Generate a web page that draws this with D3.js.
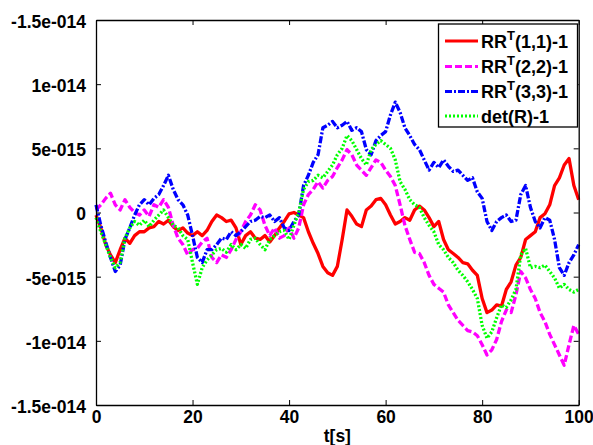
<!DOCTYPE html>
<html><head><meta charset="utf-8">
<script src="https://cdn.jsdelivr.net/npm/d3@7"></script>
<style>
html,body{margin:0;padding:0;background:#fff;}
svg text{font-family:"Liberation Sans",Arial,sans-serif;font-weight:bold;}
</style></head>
<body><svg id="c" width="593" height="445"></svg>
<script>
// time samples (s)
const times = d3.range(0, 101, 1);
// values in units of 1e-15
const UNIT = 1e-15;
const rr11 = [-0.2,-1.2,-2.5,-3.3,-3.9,-2.9,-2.0,-2.4,-1.8,-1.5,-1.5,-1.2,-1.1,-0.7,-0.9,-0.6,-1.1,-1.4,-1.2,-1.6,
  -1.8,-1.5,-1.8,-1.4,-0.7,-0.2,-0.4,-0.7,-0.6,-1.2,-2.5,-1.8,-1.5,-2.0,-2.1,-1.8,-2.3,-1.8,-1.2,-0.7,
  -0.1,0.0,-0.2,-0.4,-1.5,-2.4,-3.2,-4.2,-4.7,-4.9,-4.2,-2.1,0.2,-0.3,-0.9,-1.1,0.2,0.5,1.0,1.1,
  0.6,-0.2,-0.9,-0.7,-0.4,-0.6,0.2,0.5,0.2,-0.4,-1.1,-0.7,-2.1,-2.9,-3.2,-3.5,-3.9,-4.0,-4.5,-4.9,
  -6.7,-7.8,-7.6,-7.2,-7.3,-6.0,-5.4,-4.1,-3.5,-2.1,-1.8,-1.5,-0.4,-0.1,0.6,2.1,2.7,3.7,4.2,2.1,1.0];
const rr22 = [0.2,0.6,1.1,1.5,0.6,0.2,1.0,0.4,0.0,-0.2,0.2,-0.3,0.6,0.4,1.0,0.4,-1.0,-2.0,-2.5,-3.3,
  -2.9,-2.8,-2.3,-2.0,-3.5,-3.9,-3.3,-3.5,-2.9,-2.1,-1.5,-0.7,-0.2,0.6,0.2,-1.0,-1.8,-1.2,-2.0,-1.8,
  -1.2,-2.0,-1.2,0.6,1.4,1.8,2.4,1.9,2.5,2.8,3.5,4.1,4.9,4.5,3.7,3.3,2.9,3.5,4.1,3.9,
  3.3,2.8,2.1,0.6,-1.0,-2.1,-3.1,-3.2,-3.9,-4.9,-5.6,-5.9,-6.2,-7.2,-7.8,-8.4,-8.8,-9.2,-9.3,-9.6,
  -10.3,-11.1,-10.7,-9.9,-8.5,-7.6,-7.8,-6.4,-4.6,-5.1,-6.0,-6.7,-7.8,-8.5,-9.5,-10.3,-11.1,-11.9,-10.3,-8.8,-9.5];
const rr33 = [0.6,-1.0,-2.3,-3.5,-4.6,-4.1,-2.1,-1.2,-0.2,0.6,1.0,0.6,1.1,1.4,2.1,2.9,1.8,1.0,0.6,-0.2,
  -1.8,-3.5,-3.9,-2.9,-2.9,-2.5,-2.0,-2.1,-1.5,-1.8,-1.5,-1.1,-0.7,-0.6,-0.3,-0.4,-0.2,-0.7,-0.4,-1.2,
  -1.4,-0.7,-0.2,2.1,2.9,3.9,4.5,6.6,6.8,7.1,6.6,6.8,7.1,6.4,6.6,6.3,4.9,4.5,5.6,6.0,
  6.3,7.6,8.6,7.8,6.6,6.0,5.3,4.9,4.1,3.3,3.9,3.5,4.1,3.6,3.2,3.3,2.9,2.5,2.7,1.6,
  1.1,-0.7,-1.4,-0.7,-0.4,-0.2,-0.7,-0.6,1.4,2.1,0.4,-0.7,-1.2,-0.4,-0.6,-2.1,-4.3,-4.9,-3.9,-3.3,-2.5];
const detR = [-0.4,-1.5,-2.5,-3.5,-4.3,-3.9,-2.0,-1.2,-0.7,-1.0,-0.6,-1.1,-0.6,-0.2,0.2,-0.4,-1.0,-1.2,-1.8,-2.1,
  -3.9,-5.6,-4.3,-3.7,-3.3,-2.9,-2.8,-3.1,-2.5,-2.9,-2.5,-2.8,-2.1,-2.0,-2.5,-2.9,-2.1,-1.8,-1.5,-1.4,
  -2.1,-1.0,0.0,1.8,2.4,2.5,2.9,2.7,3.2,3.7,4.5,5.0,6.0,5.6,4.9,4.2,3.7,4.9,5.3,5.6,
  5.3,5.0,4.1,2.4,1.8,1.0,0.6,0.4,-0.4,-1.0,-1.5,-2.5,-2.9,-3.5,-3.9,-4.5,-4.9,-5.4,-6.0,-6.7,
  -8.8,-9.8,-9.3,-8.2,-7.2,-7.4,-6.8,-6.0,-3.3,-2.8,-4.3,-4.2,-4.3,-4.1,-4.6,-5.1,-5.9,-5.6,-6.0,-6.2,-6.0];

const xTicks = [0, 20, 40, 60, 80, 100];
const yTickValues = [15, 10, 5, 0, -5, -10, -15];
const yTickLabels = ["-1.5e-014","1e-014","5e-015","0","-5e-015","-1e-014","-1.5e-014"];
const seriesNames = ["RR|T|(1,1)-1","RR|T|(2,2)-1","RR|T|(3,3)-1","det(R)-1"];
const seriesColors = ["#ff0000","#ff00ff","#0000ff","#00ff00"];
const seriesDash = [null, "7,3", "7,2,2,2", "2,2"];
const seriesData = [rr11, rr22, rr33, detR];

const svg = d3.select("#c");
const L = 96, R = 578.7, T = 20, B = 405;
const x = d3.scaleLinear().domain([0, 100]).range([L, R]);
const y = d3.scaleLinear().domain([-15, 15]).range([B, T]);

svg.append("rect").attr("width",593).attr("height",445).attr("fill","#fff");

// lines
const line = d3.line().x((d,i)=>x(times[i])).y(d=>y(d));
seriesData.forEach((s,k)=>{
  svg.append("path").datum(s).attr("d", line)
    .attr("fill","none").attr("stroke",seriesColors[k]).attr("stroke-width",3.3)
    .attr("stroke-linejoin","round")
    .attr("stroke-dasharray", seriesDash[k]);
});

// axes
function styleAxis(g){
  g.selectAll("path.domain").attr("stroke","#000").attr("stroke-width",1.3);
  g.selectAll(".tick line").attr("stroke","#000").attr("stroke-width",1);
  g.selectAll("text").attr("fill","#000").style("font-size","17.5px");
}
svg.append("g").attr("transform",`translate(0,${B})`)
  .call(d3.axisBottom(x).tickValues(xTicks).tickSizeInner(-5).tickSizeOuter(0).tickPadding(6).tickFormat(d3.format("d")))
  .call(styleAxis);
svg.append("g").attr("transform",`translate(0,${T})`)
  .call(d3.axisTop(x).tickValues(xTicks).tickSizeInner(-5).tickSizeOuter(0).tickFormat(""))
  .call(styleAxis);
svg.append("g").attr("transform",`translate(${L},0)`)
  .call(d3.axisLeft(y).tickValues(yTickValues).tickSizeInner(-5).tickSizeOuter(0).tickPadding(10)
    .tickFormat((d,i)=>yTickLabels[i]))
  .call(styleAxis)
  .call(g=>g.selectAll("text").attr("dy","0.42em"));
svg.append("g").attr("transform",`translate(${R},0)`)
  .call(d3.axisRight(y).tickValues(yTickValues).tickSizeInner(-5).tickSizeOuter(0).tickFormat(""))
  .call(styleAxis);

// x label
svg.append("text").attr("x",(L+R)/2).attr("y",442).attr("text-anchor","middle")
  .style("font-size","17.5px").text("t[s]");

// legend
const lg = svg.append("g");
lg.append("rect").attr("x",438.5).attr("y",24).attr("width",139).attr("height",103)
  .attr("fill","#fff").attr("stroke","#000").attr("stroke-width",1.3);
const rowY = [41, 66.5, 91.5, 116];
seriesNames.forEach((nm,k)=>{
  lg.append("line").attr("x1",445).attr("x2",478).attr("y1",rowY[k]).attr("y2",rowY[k])
    .attr("stroke",seriesColors[k]).attr("stroke-width",3).attr("stroke-dasharray",seriesDash[k]);
  const t = lg.append("text").attr("x",481).attr("y",rowY[k]+6.5).style("font-size","18px");
  const parts = nm.split("|");
  if(parts.length===3){
    t.append("tspan").text(parts[0]);
    t.append("tspan").attr("dy",-8).style("font-size","13px").text(parts[1]);
    t.append("tspan").attr("dy",8).text(parts[2]);
  } else t.text(nm);
});
</script></body></html>
